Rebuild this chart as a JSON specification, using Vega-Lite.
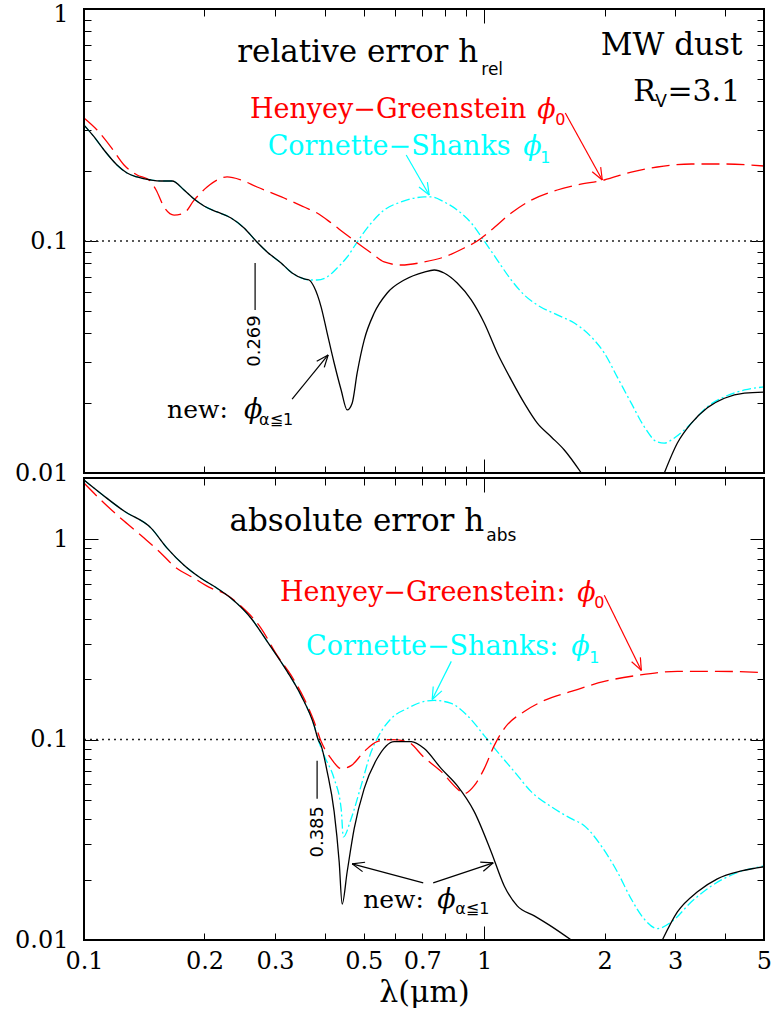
{
"$schema": "https://vega.github.io/schema/vega-lite/v6.json",
"width": 680, "height": 931,
"autosize": {"type": "none"},
"padding": {"left": 84, "top": 9, "right": 9, "bottom": 73},
"background": "white",
"config": {"view": {"stroke": null}, "axis": {"domain": false, "grid": false, "tickColor": "black", "tickWidth": 1, "labelColor": "black", "labelFont": "DejaVu Serif", "labelFontSize": 24, "labelFlush": false, "labelOverlap": false}},
"datasets": {
"curves": [
{"p":"rel","s":"CS","g":1,"x":0.1,"y":0.316},{"p":"rel","s":"CS","g":1,"x":0.1059,"y":0.2816},{"p":"rel","s":"CS","g":1,"x":0.1122,"y":0.2467},{"p":"rel","s":"CS","g":1,"x":0.1209,"y":0.2127},{"p":"rel","s":"CS","g":1,"x":0.1281,"y":0.1964},{"p":"rel","s":"CS","g":1,"x":0.1357,"y":0.1888},{"p":"rel","s":"CS","g":1,"x":0.1471,"y":0.1832},{"p":"rel","s":"CS","g":1,"x":0.1557,"y":0.1814},{"p":"rel","s":"CS","g":1,"x":0.166,"y":0.1814},{"p":"rel","s":"CS","g":1,"x":0.1778,"y":0.1659},{"p":"rel","s":"CS","g":1,"x":0.1884,"y":0.1517},{"p":"rel","s":"CS","g":1,"x":0.1995,"y":0.1415},{"p":"rel","s":"CS","g":1,"x":0.215,"y":0.1334},{"p":"rel","s":"CS","g":1,"x":0.233,"y":0.1256},{"p":"rel","s":"CS","g":1,"x":0.2512,"y":0.1138},{"p":"rel","s":"CS","g":1,"x":0.269,"y":0.1},{"p":"rel","s":"CS","g":1,"x":0.2868,"y":0.0897},{"p":"rel","s":"CS","g":1,"x":0.3108,"y":0.0804},{"p":"rel","s":"CS","g":1,"x":0.3311,"y":0.0728},{"p":"rel","s":"CS","g":1,"x":0.3548,"y":0.0686},{"p":"rel","s":"CS","g":1,"x":0.3651,"y":0.0679},{"p":"rel","s":"CS","g":1,"x":0.3823,"y":0.0679},{"p":"rel","s":"CS","g":1,"x":0.4051,"y":0.07},{"p":"rel","s":"CS","g":1,"x":0.429,"y":0.0765},{"p":"rel","s":"CS","g":1,"x":0.4545,"y":0.0853},{"p":"rel","s":"CS","g":1,"x":0.4814,"y":0.099},{"p":"rel","s":"CS","g":1,"x":0.522,"y":0.1196},{"p":"rel","s":"CS","g":1,"x":0.5623,"y":0.136},{"p":"rel","s":"CS","g":1,"x":0.62,"y":0.1473},{"p":"rel","s":"CS","g":1,"x":0.708,"y":0.1548},{"p":"rel","s":"CS","g":1,"x":0.737,"y":0.1548},{"p":"rel","s":"CS","g":1,"x":0.794,"y":0.1473},{"p":"rel","s":"CS","g":1,"x":0.856,"y":0.136},{"p":"rel","s":"CS","g":1,"x":0.928,"y":0.1196},{"p":"rel","s":"CS","g":1,"x":1.0,"y":0.1},{"p":"rel","s":"CS","g":1,"x":1.078,"y":0.0828},{"p":"rel","s":"CS","g":1,"x":1.168,"y":0.0679},{"p":"rel","s":"CS","g":1,"x":1.259,"y":0.0585},{"p":"rel","s":"CS","g":1,"x":1.357,"y":0.053},{"p":"rel","s":"CS","g":1,"x":1.522,"y":0.048},{"p":"rel","s":"CS","g":1,"x":1.679,"y":0.0443},{"p":"rel","s":"CS","g":1,"x":1.851,"y":0.0386},{"p":"rel","s":"CS","g":1,"x":1.995,"y":0.0329},{"p":"rel","s":"CS","g":1,"x":2.15,"y":0.0259},{"p":"rel","s":"CS","g":1,"x":2.33,"y":0.02},{"p":"rel","s":"CS","g":1,"x":2.512,"y":0.0158},{"p":"rel","s":"CS","g":1,"x":2.707,"y":0.0136},{"p":"rel","s":"CS","g":1,"x":2.818,"y":0.01346},{"p":"rel","s":"CS","g":1,"x":2.985,"y":0.01415},{"p":"rel","s":"CS","g":1,"x":3.293,"y":0.0164},{"p":"rel","s":"CS","g":1,"x":3.61,"y":0.0193},{"p":"rel","s":"CS","g":1,"x":3.981,"y":0.0213},{"p":"rel","s":"CS","g":1,"x":4.467,"y":0.0228},{"p":"rel","s":"CS","g":1,"x":5.0,"y":0.0235},
{"p":"rel","s":"HG","g":1,"x":0.1,"y":0.339},{"p":"rel","s":"HG","g":1,"x":0.1078,"y":0.301},{"p":"rel","s":"HG","g":1,"x":0.1168,"y":0.254},{"p":"rel","s":"HG","g":1,"x":0.1259,"y":0.2127},{"p":"rel","s":"HG","g":1,"x":0.1357,"y":0.1925},{"p":"rel","s":"HG","g":1,"x":0.1454,"y":0.1832},{"p":"rel","s":"HG","g":1,"x":0.1514,"y":0.1659},{"p":"rel","s":"HG","g":1,"x":0.1585,"y":0.1401},{"p":"rel","s":"HG","g":1,"x":0.1679,"y":0.1294},{"p":"rel","s":"HG","g":1,"x":0.1778,"y":0.132},{"p":"rel","s":"HG","g":1,"x":0.1884,"y":0.15},{"p":"rel","s":"HG","g":1,"x":0.203,"y":0.1709},{"p":"rel","s":"HG","g":1,"x":0.215,"y":0.1832},{"p":"rel","s":"HG","g":1,"x":0.2278,"y":0.1888},{"p":"rel","s":"HG","g":1,"x":0.2469,"y":0.1832},{"p":"rel","s":"HG","g":1,"x":0.2707,"y":0.1709},{"p":"rel","s":"HG","g":1,"x":0.3162,"y":0.1532},{"p":"rel","s":"HG","g":1,"x":0.3548,"y":0.1401},{"p":"rel","s":"HG","g":1,"x":0.3823,"y":0.132},{"p":"rel","s":"HG","g":1,"x":0.4145,"y":0.1196},{"p":"rel","s":"HG","g":1,"x":0.4467,"y":0.1083},{"p":"rel","s":"HG","g":1,"x":0.4786,"y":0.099},{"p":"rel","s":"HG","g":1,"x":0.522,"y":0.0888},{"p":"rel","s":"HG","g":1,"x":0.5623,"y":0.0812},{"p":"rel","s":"HG","g":1,"x":0.62,"y":0.0788},{"p":"rel","s":"HG","g":1,"x":0.708,"y":0.0812},{"p":"rel","s":"HG","g":1,"x":0.794,"y":0.0853},{"p":"rel","s":"HG","g":1,"x":0.891,"y":0.0933},{"p":"rel","s":"HG","g":1,"x":0.9605,"y":0.1},{"p":"rel","s":"HG","g":1,"x":1.041,"y":0.1115},{"p":"rel","s":"HG","g":1,"x":1.168,"y":0.132},{"p":"rel","s":"HG","g":1,"x":1.31,"y":0.15},{"p":"rel","s":"HG","g":1,"x":1.522,"y":0.1659},{"p":"rel","s":"HG","g":1,"x":1.708,"y":0.1743},{"p":"rel","s":"HG","g":1,"x":1.995,"y":0.1832},{"p":"rel","s":"HG","g":1,"x":2.33,"y":0.1983},{"p":"rel","s":"HG","g":1,"x":2.707,"y":0.2084},{"p":"rel","s":"HG","g":1,"x":3.293,"y":0.2147},{"p":"rel","s":"HG","g":1,"x":3.981,"y":0.2147},{"p":"rel","s":"HG","g":1,"x":5.0,"y":0.2105},
{"p":"rel","s":"new","g":1,"x":0.1,"y":0.316},{"p":"rel","s":"new","g":1,"x":0.1059,"y":0.2816},{"p":"rel","s":"new","g":1,"x":0.1122,"y":0.2467},{"p":"rel","s":"new","g":1,"x":0.1209,"y":0.2127},{"p":"rel","s":"new","g":1,"x":0.1281,"y":0.1964},{"p":"rel","s":"new","g":1,"x":0.1357,"y":0.1888},{"p":"rel","s":"new","g":1,"x":0.1471,"y":0.1832},{"p":"rel","s":"new","g":1,"x":0.1557,"y":0.1814},{"p":"rel","s":"new","g":1,"x":0.166,"y":0.1814},{"p":"rel","s":"new","g":1,"x":0.1778,"y":0.1659},{"p":"rel","s":"new","g":1,"x":0.1884,"y":0.1517},{"p":"rel","s":"new","g":1,"x":0.1995,"y":0.1415},{"p":"rel","s":"new","g":1,"x":0.215,"y":0.1334},{"p":"rel","s":"new","g":1,"x":0.233,"y":0.1256},{"p":"rel","s":"new","g":1,"x":0.2512,"y":0.1138},{"p":"rel","s":"new","g":1,"x":0.269,"y":0.1},{"p":"rel","s":"new","g":1,"x":0.2868,"y":0.0897},{"p":"rel","s":"new","g":1,"x":0.3108,"y":0.0804},{"p":"rel","s":"new","g":1,"x":0.3311,"y":0.0728},{"p":"rel","s":"new","g":1,"x":0.3548,"y":0.0686},{"p":"rel","s":"new","g":1,"x":0.3651,"y":0.0679},{"p":"rel","s":"new","g":1,"x":0.3758,"y":0.0633},{"p":"rel","s":"new","g":1,"x":0.3913,"y":0.0519},{"p":"rel","s":"new","g":1,"x":0.4051,"y":0.0401},{"p":"rel","s":"new","g":1,"x":0.4217,"y":0.0298},{"p":"rel","s":"new","g":1,"x":0.439,"y":0.0228},{"p":"rel","s":"new","g":1,"x":0.4545,"y":0.0187},{"p":"rel","s":"new","g":1,"x":0.4677,"y":0.02},{"p":"rel","s":"new","g":1,"x":0.4814,"y":0.027},{"p":"rel","s":"new","g":1,"x":0.5012,"y":0.0374},{"p":"rel","s":"new","g":1,"x":0.5309,"y":0.0489},{"p":"rel","s":"new","g":1,"x":0.5722,"y":0.0597},{"p":"rel","s":"new","g":1,"x":0.631,"y":0.0679},{"p":"rel","s":"new","g":1,"x":0.708,"y":0.0735},{"p":"rel","s":"new","g":1,"x":0.75,"y":0.075},{"p":"rel","s":"new","g":1,"x":0.794,"y":0.0728},{"p":"rel","s":"new","g":1,"x":0.856,"y":0.0659},{"p":"rel","s":"new","g":1,"x":0.928,"y":0.0557},{"p":"rel","s":"new","g":1,"x":1.0,"y":0.0443},{"p":"rel","s":"new","g":1,"x":1.078,"y":0.0329},{"p":"rel","s":"new","g":1,"x":1.168,"y":0.0252},{"p":"rel","s":"new","g":1,"x":1.259,"y":0.02},{"p":"rel","s":"new","g":1,"x":1.357,"y":0.0164},{"p":"rel","s":"new","g":1,"x":1.471,"y":0.0143},{"p":"rel","s":"new","g":1,"x":1.585,"y":0.01257},{"p":"rel","s":"new","g":1,"x":1.748,"y":0.01},
{"p":"rel","s":"new","g":2,"x":2.818,"y":0.01},{"p":"rel","s":"new","g":2,"x":3.038,"y":0.01346},{"p":"rel","s":"new","g":2,"x":3.293,"y":0.0164},{"p":"rel","s":"new","g":2,"x":3.61,"y":0.0191},{"p":"rel","s":"new","g":2,"x":3.981,"y":0.021},{"p":"rel","s":"new","g":2,"x":4.467,"y":0.0221},{"p":"rel","s":"new","g":2,"x":5.0,"y":0.0223},
{"p":"abs","s":"CS","g":1,"x":0.1,"y":1.972},{"p":"abs","s":"CS","g":1,"x":0.1122,"y":1.641},{"p":"abs","s":"CS","g":1,"x":0.1259,"y":1.38},{"p":"abs","s":"CS","g":1,"x":0.1471,"y":1.135},{"p":"abs","s":"CS","g":1,"x":0.1613,"y":0.902},{"p":"abs","s":"CS","g":1,"x":0.1778,"y":0.741},{"p":"abs","s":"CS","g":1,"x":0.196,"y":0.638},{"p":"abs","s":"CS","g":1,"x":0.215,"y":0.569},{"p":"abs","s":"CS","g":1,"x":0.233,"y":0.507},{"p":"abs","s":"CS","g":1,"x":0.2615,"y":0.403},{"p":"abs","s":"CS","g":1,"x":0.2868,"y":0.309},{"p":"abs","s":"CS","g":1,"x":0.3217,"y":0.219},{"p":"abs","s":"CS","g":1,"x":0.3486,"y":0.166},{"p":"abs","s":"CS","g":1,"x":0.3758,"y":0.1175},{"p":"abs","s":"CS","g":1,"x":0.3846,"y":0.1},{"p":"abs","s":"CS","g":1,"x":0.398,"y":0.0832},{"p":"abs","s":"CS","g":1,"x":0.4217,"y":0.0638},{"p":"abs","s":"CS","g":1,"x":0.439,"y":0.0452},{"p":"abs","s":"CS","g":1,"x":0.4446,"y":0.0327},{"p":"abs","s":"CS","g":1,"x":0.465,"y":0.0403},{"p":"abs","s":"CS","g":1,"x":0.4925,"y":0.0589},{"p":"abs","s":"CS","g":1,"x":0.522,"y":0.0871},{"p":"abs","s":"CS","g":1,"x":0.54,"y":0.101},{"p":"abs","s":"CS","g":1,"x":0.5855,"y":0.1274},{"p":"abs","s":"CS","g":1,"x":0.642,"y":0.1429},{"p":"abs","s":"CS","g":1,"x":0.708,"y":0.1549},{"p":"abs","s":"CS","g":1,"x":0.75,"y":0.1567},{"p":"abs","s":"CS","g":1,"x":0.827,"y":0.1514},{"p":"abs","s":"CS","g":1,"x":0.907,"y":0.1318},{"p":"abs","s":"CS","g":1,"x":1.0,"y":0.1047},{"p":"abs","s":"CS","g":1,"x":1.078,"y":0.0871},{"p":"abs","s":"CS","g":1,"x":1.189,"y":0.0692},{"p":"abs","s":"CS","g":1,"x":1.31,"y":0.055},{"p":"abs","s":"CS","g":1,"x":1.471,"y":0.0462},{"p":"abs","s":"CS","g":1,"x":1.65,"y":0.0403},{"p":"abs","s":"CS","g":1,"x":1.778,"y":0.0372},{"p":"abs","s":"CS","g":1,"x":1.96,"y":0.0295},{"p":"abs","s":"CS","g":1,"x":2.15,"y":0.0219},{"p":"abs","s":"CS","g":1,"x":2.33,"y":0.016},{"p":"abs","s":"CS","g":1,"x":2.512,"y":0.0127},{"p":"abs","s":"CS","g":1,"x":2.707,"y":0.0114},{"p":"abs","s":"CS","g":1,"x":2.934,"y":0.0123},{"p":"abs","s":"CS","g":1,"x":3.293,"y":0.0155},{"p":"abs","s":"CS","g":1,"x":3.694,"y":0.0186},{"p":"abs","s":"CS","g":1,"x":4.217,"y":0.0214},{"p":"abs","s":"CS","g":1,"x":5.0,"y":0.0234},
{"p":"abs","s":"HG","g":1,"x":0.1,"y":1.905},{"p":"abs","s":"HG","g":1,"x":0.1122,"y":1.514},{"p":"abs","s":"HG","g":1,"x":0.1259,"y":1.23},{"p":"abs","s":"HG","g":1,"x":0.1413,"y":1.012},{"p":"abs","s":"HG","g":1,"x":0.1557,"y":0.851},{"p":"abs","s":"HG","g":1,"x":0.1679,"y":0.733},{"p":"abs","s":"HG","g":1,"x":0.1884,"y":0.638},{"p":"abs","s":"HG","g":1,"x":0.2077,"y":0.569},{"p":"abs","s":"HG","g":1,"x":0.2239,"y":0.537},{"p":"abs","s":"HG","g":1,"x":0.2469,"y":0.462},{"p":"abs","s":"HG","g":1,"x":0.277,"y":0.359},{"p":"abs","s":"HG","g":1,"x":0.3038,"y":0.263},{"p":"abs","s":"HG","g":1,"x":0.3293,"y":0.209},{"p":"abs","s":"HG","g":1,"x":0.3548,"y":0.16},{"p":"abs","s":"HG","g":1,"x":0.3758,"y":0.123},{"p":"abs","s":"HG","g":1,"x":0.3913,"y":0.0977},{"p":"abs","s":"HG","g":1,"x":0.4145,"y":0.0804},{"p":"abs","s":"HG","g":1,"x":0.439,"y":0.0716},{"p":"abs","s":"HG","g":1,"x":0.465,"y":0.0741},{"p":"abs","s":"HG","g":1,"x":0.5012,"y":0.0871},{"p":"abs","s":"HG","g":1,"x":0.54,"y":0.0977},{"p":"abs","s":"HG","g":1,"x":0.5855,"y":0.1},{"p":"abs","s":"HG","g":1,"x":0.642,"y":0.0977},{"p":"abs","s":"HG","g":1,"x":0.708,"y":0.0813},{"p":"abs","s":"HG","g":1,"x":0.781,"y":0.0692},{"p":"abs","s":"HG","g":1,"x":0.856,"y":0.0569},{"p":"abs","s":"HG","g":1,"x":0.891,"y":0.0537},{"p":"abs","s":"HG","g":1,"x":0.944,"y":0.0589},{"p":"abs","s":"HG","g":1,"x":1.0,"y":0.0716},{"p":"abs","s":"HG","g":1,"x":1.059,"y":0.0933},{"p":"abs","s":"HG","g":1,"x":1.122,"y":0.1135},{"p":"abs","s":"HG","g":1,"x":1.259,"y":0.138},{"p":"abs","s":"HG","g":1,"x":1.413,"y":0.1567},{"p":"abs","s":"HG","g":1,"x":1.65,"y":0.1738},{"p":"abs","s":"HG","g":1,"x":1.995,"y":0.195},{"p":"abs","s":"HG","g":1,"x":2.413,"y":0.209},{"p":"abs","s":"HG","g":1,"x":3.038,"y":0.219},{"p":"abs","s":"HG","g":1,"x":3.823,"y":0.219},{"p":"abs","s":"HG","g":1,"x":5.0,"y":0.216},
{"p":"abs","s":"new","g":1,"x":0.1,"y":1.972},{"p":"abs","s":"new","g":1,"x":0.1122,"y":1.641},{"p":"abs","s":"new","g":1,"x":0.1259,"y":1.38},{"p":"abs","s":"new","g":1,"x":0.1471,"y":1.135},{"p":"abs","s":"new","g":1,"x":0.1613,"y":0.902},{"p":"abs","s":"new","g":1,"x":0.1778,"y":0.741},{"p":"abs","s":"new","g":1,"x":0.196,"y":0.638},{"p":"abs","s":"new","g":1,"x":0.215,"y":0.569},{"p":"abs","s":"new","g":1,"x":0.233,"y":0.507},{"p":"abs","s":"new","g":1,"x":0.2615,"y":0.403},{"p":"abs","s":"new","g":1,"x":0.2868,"y":0.309},{"p":"abs","s":"new","g":1,"x":0.3217,"y":0.219},{"p":"abs","s":"new","g":1,"x":0.3486,"y":0.166},{"p":"abs","s":"new","g":1,"x":0.3758,"y":0.1175},{"p":"abs","s":"new","g":1,"x":0.3846,"y":0.1},{"p":"abs","s":"new","g":1,"x":0.3913,"y":0.0933},{"p":"abs","s":"new","g":1,"x":0.4051,"y":0.0692},{"p":"abs","s":"new","g":1,"x":0.4217,"y":0.0437},{"p":"abs","s":"new","g":1,"x":0.4341,"y":0.0245},{"p":"abs","s":"new","g":1,"x":0.4416,"y":0.0151},{"p":"abs","s":"new","g":1,"x":0.4545,"y":0.0219},{"p":"abs","s":"new","g":1,"x":0.4732,"y":0.0359},{"p":"abs","s":"new","g":1,"x":0.5012,"y":0.0569},{"p":"abs","s":"new","g":1,"x":0.54,"y":0.0804},{"p":"abs","s":"new","g":1,"x":0.5957,"y":0.0977},{"p":"abs","s":"new","g":1,"x":0.657,"y":0.0977},{"p":"abs","s":"new","g":1,"x":0.708,"y":0.0902},{"p":"abs","s":"new","g":1,"x":0.781,"y":0.0716},{"p":"abs","s":"new","g":1,"x":0.856,"y":0.0589},{"p":"abs","s":"new","g":1,"x":0.944,"y":0.0437},{"p":"abs","s":"new","g":1,"x":1.041,"y":0.0275},{"p":"abs","s":"new","g":1,"x":1.122,"y":0.0186},{"p":"abs","s":"new","g":1,"x":1.209,"y":0.0148},{"p":"abs","s":"new","g":1,"x":1.334,"y":0.0132},{"p":"abs","s":"new","g":1,"x":1.471,"y":0.0117},{"p":"abs","s":"new","g":1,"x":1.65,"y":0.01},
{"p":"abs","s":"new","g":2,"x":2.786,"y":0.01},{"p":"abs","s":"new","g":2,"x":3.038,"y":0.0138},{"p":"abs","s":"new","g":2,"x":3.41,"y":0.0174},{"p":"abs","s":"new","g":2,"x":3.823,"y":0.0202},{"p":"abs","s":"new","g":2,"x":4.39,"y":0.0221},{"p":"abs","s":"new","g":2,"x":5.0,"y":0.0232}
],
"notes": [
{"p":"rel","r":"tr","s":"new","t":"relative error h","x":0.966,"y":0.5908},
{"p":"rel","r":"tr","s":"new","t":"MW dust","x":4.416,"y":0.6335},
{"p":"rel","r":"tl","s":"new","t":"R","x":2.358,"y":0.4013},
{"p":"rel","r":"tl","s":"new","t":"=3.1","x":2.868,"y":0.4013},
{"p":"rel","r":"sub","s":"new","t":"rel","x":0.983,"y":0.5194},
{"p":"rel","r":"sub","s":"new","t":"V","x":2.676,"y":0.3781},
{"p":"rel","r":"lab","s":"HG","t":"Henyey−Greenstein","x":0.5754,"y":0.339},
{"p":"rel","r":"lab","s":"CS","t":"Cornette−Shanks","x":0.5788,"y":0.2349},
{"p":"rel","r":"phi","s":"HG","t":"ϕ","x":1.357,"y":0.339},
{"p":"rel","r":"phi","s":"CS","t":"ϕ","x":1.252,"y":0.2349},
{"p":"rel","r":"phi","s":"new","t":"ϕ","x":0.2512,"y":0.01726},
{"p":"rel","r":"ps","s":"HG","t":"0","x":1.505,"y":0.3162},
{"p":"rel","r":"ps","s":"CS","t":"1","x":1.38,"y":0.2169},
{"p":"rel","r":"ps","s":"new","t":"α≦1","x":0.2738,"y":0.0161},
{"p":"rel","r":"new","s":"new","t":"new:","x":0.1613,"y":0.01726},
{"p":"rel","r":"num","s":"new","t":"0.269","x":0.2676,"y":0.03707},
{"p":"abs","r":"tr","s":"new","t":"absolute error h","x":1.0,"y":1.096},
{"p":"abs","r":"sub","s":"new","t":"abs","x":1.012,"y":0.977},
{"p":"abs","r":"lab","s":"HG","t":"Henyey−Greenstein:","x":0.7019,"y":0.4898},
{"p":"abs","r":"lab","s":"CS","t":"Cornette−Shanks:","x":0.7413,"y":0.263},
{"p":"abs","r":"phi","s":"HG","t":"ϕ","x":1.708,"y":0.4898},
{"p":"abs","r":"phi","s":"CS","t":"ϕ","x":1.65,"y":0.263},
{"p":"abs","r":"phi","s":"new","t":"ϕ","x":0.763,"y":0.01445},
{"p":"abs","r":"ps","s":"HG","t":"0","x":1.884,"y":0.4519},
{"p":"abs","r":"ps","s":"CS","t":"1","x":1.83,"y":0.2399},
{"p":"abs","r":"ps","s":"new","t":"α≦1","x":0.846,"y":0.01349},
{"p":"abs","r":"new","s":"new","t":"new:","x":0.4984,"y":0.01445},
{"p":"abs","r":"num","s":"new","t":"0.385","x":0.3846,"y":0.03467}
],
"arrows": [
{"p":"rel","s":"HG","x":1.594,"y":0.3562,"x2":1.972,"y2":0.1832},
{"p":"rel","s":"HG","x":1.972,"y":0.1832,"x2":1.954,"y2":0.2083},
{"p":"rel","s":"HG","x":1.972,"y":0.1832,"x2":1.861,"y2":0.1988},
{"p":"rel","s":"CS","x":0.6383,"y":0.2349,"x2":0.7286,"y2":0.1579},
{"p":"rel","s":"CS","x":0.7286,"y":0.1579,"x2":0.7211,"y2":0.1794},
{"p":"rel","s":"CS","x":0.7286,"y":0.1579,"x2":0.6871,"y2":0.1709},
{"p":"rel","s":"new","x":0.3311,"y":0.02084,"x2":0.4074,"y2":0.03226},
{"p":"rel","s":"new","x":0.4074,"y":0.03226,"x2":0.3815,"y2":0.03033},
{"p":"rel","s":"new","x":0.4074,"y":0.03226,"x2":0.3984,"y2":0.02852},
{"p":"rel","s":"new","x":0.2676,"y":0.0804,"x2":0.2676,"y2":0.05043},
{"p":"abs","s":"HG","x":1.995,"y":0.5248,"x2":2.469,"y2":0.2213},
{"p":"abs","s":"HG","x":2.469,"y":0.2213,"x2":2.455,"y2":0.257},
{"p":"abs","s":"HG","x":2.469,"y":0.2213,"x2":2.335,"y2":0.2446},
{"p":"abs","s":"CS","x":0.8272,"y":0.2455,"x2":0.7413,"y2":0.1585},
{"p":"abs","s":"CS","x":0.7413,"y":0.1585,"x2":0.7838,"y2":0.175},
{"p":"abs","s":"CS","x":0.7413,"y":0.1585,"x2":0.7456,"y2":0.1841},
{"p":"abs","s":"new","x":0.704,"y":0.01928,"x2":0.4677,"y2":0.02399},
{"p":"abs","s":"new","x":0.4677,"y":0.02399,"x2":0.4966,"y2":0.02193},
{"p":"abs","s":"new","x":0.4677,"y":0.02399,"x2":0.5038,"y2":0.02443},
{"p":"abs","s":"new","x":0.7456,"y":0.01928,"x2":1.053,"y2":0.02427},
{"p":"abs","s":"new","x":1.053,"y":0.02427,"x2":0.9772,"y2":0.02449},
{"p":"abs","s":"new","x":1.053,"y":0.02427,"x2":0.9948,"y2":0.02203},
{"p":"abs","s":"new","x":0.3823,"y":0.0785,"x2":0.3823,"y2":0.0507}
]
},
"layer": [
{"data":{"name":"curves"},"transform":[{"filter":"datum.p=='rel' && datum.s=='CS'"}],"mark":{"type":"line","interpolate":"monotone","color":"#00ffff","strokeWidth":1.3,"strokeDash":[9,3,2,3]},
 "encoding":{"x":{"field":"x","type":"quantitative","scale":{"type":"log","domain":[0.1,5],"nice":false},"axis":null},"y":{"field":"y","type":"quantitative","scale":{"type":"log","domain":[0.01,1],"nice":false,"range":[464,0]},"axis":null}}},
{"data":{"name":"curves"},"transform":[{"filter":"datum.p=='rel' && datum.s=='HG'"}],"mark":{"type":"line","interpolate":"monotone","color":"#ff0000","strokeWidth":1.3,"strokeDash":[18,7]},
 "encoding":{"x":{"field":"x","type":"quantitative","scale":{"type":"log","domain":[0.1,5],"nice":false},"axis":null},"y":{"field":"y","type":"quantitative","scale":{"type":"log","domain":[0.01,1],"nice":false,"range":[464,0]},"axis":null}}},
{"data":{"name":"curves"},"transform":[{"filter":"datum.p=='rel' && datum.s=='new'"}],"mark":{"type":"line","interpolate":"monotone","color":"#000000","strokeWidth":1.3},
 "encoding":{"x":{"field":"x","type":"quantitative","scale":{"type":"log","domain":[0.1,5],"nice":false},"axis":null},"y":{"field":"y","type":"quantitative","scale":{"type":"log","domain":[0.01,1],"nice":false,"range":[464,0]},"axis":null},"detail":{"field":"g","type":"nominal"}}},
{"data":{"name":"curves"},"transform":[{"filter":"datum.p=='abs' && datum.s=='CS'"}],"mark":{"type":"line","interpolate":"monotone","color":"#00ffff","strokeWidth":1.3,"strokeDash":[9,3,2,3]},
 "encoding":{"x":{"field":"x","type":"quantitative","scale":{"type":"log","domain":[0.1,5],"nice":false},"axis":null},"y":{"field":"y","type":"quantitative","scale":{"type":"log","domain":[0.01,2.018],"nice":false,"range":[931,469]},"axis":null}}},
{"data":{"name":"curves"},"transform":[{"filter":"datum.p=='abs' && datum.s=='HG'"}],"mark":{"type":"line","interpolate":"monotone","color":"#ff0000","strokeWidth":1.3,"strokeDash":[18,7]},
 "encoding":{"x":{"field":"x","type":"quantitative","scale":{"type":"log","domain":[0.1,5],"nice":false},"axis":null},"y":{"field":"y","type":"quantitative","scale":{"type":"log","domain":[0.01,2.018],"nice":false,"range":[931,469]},"axis":null}}},
{"data":{"name":"curves"},"transform":[{"filter":"datum.p=='abs' && datum.s=='new'"}],"mark":{"type":"line","interpolate":"monotone","color":"#000000","strokeWidth":1.3},
 "encoding":{"x":{"field":"x","type":"quantitative","scale":{"type":"log","domain":[0.1,5],"nice":false},"axis":null},"y":{"field":"y","type":"quantitative","scale":{"type":"log","domain":[0.01,2.018],"nice":false,"range":[931,469]},"axis":null},"detail":{"field":"g","type":"nominal"}}},
{"data":{"name":"arrows"},"transform":[{"filter":"datum.p=='rel'"}],"mark":{"type":"rule","strokeWidth":1.2},
 "encoding":{"x":{"field":"x","type":"quantitative","scale":{"type":"log","domain":[0.1,5],"nice":false},"axis":null},"x2":{"field":"x2"},"y":{"field":"y","type":"quantitative","scale":{"type":"log","domain":[0.01,1],"nice":false,"range":[464,0]},"axis":null},"y2":{"field":"y2"},
 "color":{"field":"s","type":"nominal","scale":{"domain":["HG","CS","new"],"range":["#ff0000","#00ffff","#000000"]},"legend":null}}},
{"data":{"name":"arrows"},"transform":[{"filter":"datum.p=='abs'"}],"mark":{"type":"rule","strokeWidth":1.2},
 "encoding":{"x":{"field":"x","type":"quantitative","scale":{"type":"log","domain":[0.1,5],"nice":false},"axis":null},"x2":{"field":"x2"},"y":{"field":"y","type":"quantitative","scale":{"type":"log","domain":[0.01,2.018],"nice":false,"range":[931,469]},"axis":null},"y2":{"field":"y2"},
 "color":{"field":"s","type":"nominal","scale":{"domain":["HG","CS","new"],"range":["#ff0000","#00ffff","#000000"]},"legend":null}}},
{"data":{"name":"notes"},"transform":[{"filter":"datum.p=='rel' && datum.r=='tr'"}],"mark":{"type":"text","align":"right","baseline":"alphabetic","font":"DejaVu Serif","fontSize":31,"color":"black"},
 "encoding":{"x":{"field":"x","type":"quantitative","scale":{"type":"log","domain":[0.1,5],"nice":false},"axis":null},"y":{"field":"y","type":"quantitative","scale":{"type":"log","domain":[0.01,1],"nice":false,"range":[464,0]},"axis":null},"text":{"field":"t"}}},
{"data":{"name":"notes"},"transform":[{"filter":"datum.p=='rel' && datum.r=='tl'"}],"mark":{"type":"text","align":"left","baseline":"alphabetic","font":"DejaVu Serif","fontSize":30,"color":"black"},
 "encoding":{"x":{"field":"x","type":"quantitative","scale":{"type":"log","domain":[0.1,5],"nice":false},"axis":null},"y":{"field":"y","type":"quantitative","scale":{"type":"log","domain":[0.01,1],"nice":false,"range":[464,0]},"axis":null},"text":{"field":"t"}}},
{"data":{"name":"notes"},"transform":[{"filter":"datum.p=='rel' && datum.r=='sub'"}],"mark":{"type":"text","align":"left","baseline":"alphabetic","font":"DejaVu Sans","fontSize":17,"color":"black"},
 "encoding":{"x":{"field":"x","type":"quantitative","scale":{"type":"log","domain":[0.1,5],"nice":false},"axis":null},"y":{"field":"y","type":"quantitative","scale":{"type":"log","domain":[0.01,1],"nice":false,"range":[464,0]},"axis":null},"text":{"field":"t"}}},
{"data":{"name":"notes"},"transform":[{"filter":"datum.p=='rel' && datum.r=='lab'"}],"mark":{"type":"text","align":"center","baseline":"alphabetic","font":"DejaVu Serif","fontSize":27},
 "encoding":{"x":{"field":"x","type":"quantitative","scale":{"type":"log","domain":[0.1,5],"nice":false},"axis":null},"y":{"field":"y","type":"quantitative","scale":{"type":"log","domain":[0.01,1],"nice":false,"range":[464,0]},"axis":null},"text":{"field":"t"},
 "color":{"field":"s","type":"nominal","scale":{"domain":["HG","CS","new"],"range":["#ff0000","#00ffff","#000000"]},"legend":null}}},
{"data":{"name":"notes"},"transform":[{"filter":"datum.p=='rel' && datum.r=='phi'"}],"mark":{"type":"text","align":"left","baseline":"alphabetic","font":"DejaVu Serif","fontStyle":"italic","fontSize":27},
 "encoding":{"x":{"field":"x","type":"quantitative","scale":{"type":"log","domain":[0.1,5],"nice":false},"axis":null},"y":{"field":"y","type":"quantitative","scale":{"type":"log","domain":[0.01,1],"nice":false,"range":[464,0]},"axis":null},"text":{"field":"t"},
 "color":{"field":"s","type":"nominal","scale":{"domain":["HG","CS","new"],"range":["#ff0000","#00ffff","#000000"]},"legend":null}}},
{"data":{"name":"notes"},"transform":[{"filter":"datum.p=='rel' && datum.r=='ps'"}],"mark":{"type":"text","align":"left","baseline":"alphabetic","font":"DejaVu Sans","fontSize":16},
 "encoding":{"x":{"field":"x","type":"quantitative","scale":{"type":"log","domain":[0.1,5],"nice":false},"axis":null},"y":{"field":"y","type":"quantitative","scale":{"type":"log","domain":[0.01,1],"nice":false,"range":[464,0]},"axis":null},"text":{"field":"t"},
 "color":{"field":"s","type":"nominal","scale":{"domain":["HG","CS","new"],"range":["#ff0000","#00ffff","#000000"]},"legend":null}}},
{"data":{"name":"notes"},"transform":[{"filter":"datum.p=='rel' && datum.r=='new'"}],"mark":{"type":"text","align":"left","baseline":"alphabetic","font":"DejaVu Serif","fontSize":25,"color":"black"},
 "encoding":{"x":{"field":"x","type":"quantitative","scale":{"type":"log","domain":[0.1,5],"nice":false},"axis":null},"y":{"field":"y","type":"quantitative","scale":{"type":"log","domain":[0.01,1],"nice":false,"range":[464,0]},"axis":null},"text":{"field":"t"}}},
{"data":{"name":"notes"},"transform":[{"filter":"datum.p=='rel' && datum.r=='num'"}],"mark":{"type":"text","align":"center","baseline":"middle","angle":270,"font":"DejaVu Sans","fontSize":18,"color":"black"},
 "encoding":{"x":{"field":"x","type":"quantitative","scale":{"type":"log","domain":[0.1,5],"nice":false},"axis":null},"y":{"field":"y","type":"quantitative","scale":{"type":"log","domain":[0.01,1],"nice":false,"range":[464,0]},"axis":null},"text":{"field":"t"}}},
{"data":{"name":"notes"},"transform":[{"filter":"datum.p=='abs' && datum.r=='tr'"}],"mark":{"type":"text","align":"right","baseline":"alphabetic","font":"DejaVu Serif","fontSize":31,"color":"black"},
 "encoding":{"x":{"field":"x","type":"quantitative","scale":{"type":"log","domain":[0.1,5],"nice":false},"axis":null},"y":{"field":"y","type":"quantitative","scale":{"type":"log","domain":[0.01,2.018],"nice":false,"range":[931,469]},"axis":null},"text":{"field":"t"}}},
{"data":{"name":"notes"},"transform":[{"filter":"datum.p=='abs' && datum.r=='sub'"}],"mark":{"type":"text","align":"left","baseline":"alphabetic","font":"DejaVu Sans","fontSize":17,"color":"black"},
 "encoding":{"x":{"field":"x","type":"quantitative","scale":{"type":"log","domain":[0.1,5],"nice":false},"axis":null},"y":{"field":"y","type":"quantitative","scale":{"type":"log","domain":[0.01,2.018],"nice":false,"range":[931,469]},"axis":null},"text":{"field":"t"}}},
{"data":{"name":"notes"},"transform":[{"filter":"datum.p=='abs' && datum.r=='lab'"}],"mark":{"type":"text","align":"center","baseline":"alphabetic","font":"DejaVu Serif","fontSize":27},
 "encoding":{"x":{"field":"x","type":"quantitative","scale":{"type":"log","domain":[0.1,5],"nice":false},"axis":null},"y":{"field":"y","type":"quantitative","scale":{"type":"log","domain":[0.01,2.018],"nice":false,"range":[931,469]},"axis":null},"text":{"field":"t"},
 "color":{"field":"s","type":"nominal","scale":{"domain":["HG","CS","new"],"range":["#ff0000","#00ffff","#000000"]},"legend":null}}},
{"data":{"name":"notes"},"transform":[{"filter":"datum.p=='abs' && datum.r=='phi'"}],"mark":{"type":"text","align":"left","baseline":"alphabetic","font":"DejaVu Serif","fontStyle":"italic","fontSize":27},
 "encoding":{"x":{"field":"x","type":"quantitative","scale":{"type":"log","domain":[0.1,5],"nice":false},"axis":null},"y":{"field":"y","type":"quantitative","scale":{"type":"log","domain":[0.01,2.018],"nice":false,"range":[931,469]},"axis":null},"text":{"field":"t"},
 "color":{"field":"s","type":"nominal","scale":{"domain":["HG","CS","new"],"range":["#ff0000","#00ffff","#000000"]},"legend":null}}},
{"data":{"name":"notes"},"transform":[{"filter":"datum.p=='abs' && datum.r=='ps'"}],"mark":{"type":"text","align":"left","baseline":"alphabetic","font":"DejaVu Sans","fontSize":16},
 "encoding":{"x":{"field":"x","type":"quantitative","scale":{"type":"log","domain":[0.1,5],"nice":false},"axis":null},"y":{"field":"y","type":"quantitative","scale":{"type":"log","domain":[0.01,2.018],"nice":false,"range":[931,469]},"axis":null},"text":{"field":"t"},
 "color":{"field":"s","type":"nominal","scale":{"domain":["HG","CS","new"],"range":["#ff0000","#00ffff","#000000"]},"legend":null}}},
{"data":{"name":"notes"},"transform":[{"filter":"datum.p=='abs' && datum.r=='new'"}],"mark":{"type":"text","align":"left","baseline":"alphabetic","font":"DejaVu Serif","fontSize":25,"color":"black"},
 "encoding":{"x":{"field":"x","type":"quantitative","scale":{"type":"log","domain":[0.1,5],"nice":false},"axis":null},"y":{"field":"y","type":"quantitative","scale":{"type":"log","domain":[0.01,2.018],"nice":false,"range":[931,469]},"axis":null},"text":{"field":"t"}}},
{"data":{"name":"notes"},"transform":[{"filter":"datum.p=='abs' && datum.r=='num'"}],"mark":{"type":"text","align":"center","baseline":"middle","angle":270,"font":"DejaVu Sans","fontSize":18,"color":"black"},
 "encoding":{"x":{"field":"x","type":"quantitative","scale":{"type":"log","domain":[0.1,5],"nice":false},"axis":null},"y":{"field":"y","type":"quantitative","scale":{"type":"log","domain":[0.01,2.018],"nice":false,"range":[931,469]},"axis":null},"text":{"field":"t"}}},
{"data":{"values":[{"a":1}]},"mark":{"type":"rule","color":"#222222","strokeWidth":1.5,"strokeDash":[2,4]},
 "encoding":{"x":{"datum":0.1,"type":"quantitative","scale":{"type":"log","domain":[0.1,5],"nice":false},
   "axis":{"orient":"bottom","offset":-467,"values":[0.1,0.2,0.3,0.4,0.5,0.6,0.7,0.8,0.9,1,2,3,4,5],"labels":false,"title":null,"tickSize":{"condition":{"test":"datum.value == 0.1 || datum.value == 1","value":-14},"value":-7}}},
  "x2":{"datum":5},
  "y":{"datum":0.1,"type":"quantitative","scale":{"type":"log","domain":[0.01,1],"nice":false,"range":[464,0]},
   "axis":{"orient":"right","values":[0.01,0.02,0.03,0.04,0.05,0.06,0.07,0.08,0.09,0.1,0.2,0.3,0.4,0.5,0.6,0.7,0.8,0.9,1],"labels":false,"title":null,"tickSize":{"condition":{"test":"datum.value == 0.01 || datum.value == 0.1 || datum.value == 1","value":-14},"value":-7}}}}},
{"data":{"values":[{"a":1}]},"mark":{"type":"rule","color":"#222222","strokeWidth":1.5,"strokeDash":[2,4]},
 "encoding":{"x":{"datum":0.1,"type":"quantitative","scale":{"type":"log","domain":[0.1,5],"nice":false},
   "axis":{"orient":"top","offset":-469,"values":[0.1,0.2,0.3,0.4,0.5,0.6,0.7,0.8,0.9,1,2,3,4,5],"labels":false,"title":null,"tickSize":{"condition":{"test":"datum.value == 0.1 || datum.value == 1","value":-14},"value":-7}}},
  "x2":{"datum":5},
  "y":{"datum":0.1,"type":"quantitative","scale":{"type":"log","domain":[0.01,2.018],"nice":false,"range":[931,469]},
   "axis":{"orient":"right","values":[0.01,0.02,0.03,0.04,0.05,0.06,0.07,0.08,0.09,0.1,0.2,0.3,0.4,0.5,0.6,0.7,0.8,0.9,1],"labels":false,"title":null,"tickSize":{"condition":{"test":"datum.value == 0.01 || datum.value == 0.1 || datum.value == 1","value":-14},"value":-7}}}}},
{"data":{"values":[{"a":1}]},"mark":{"type":"rect","filled":false,"color":"black","strokeWidth":2},
 "encoding":{"x":{"datum":0.1,"type":"quantitative","scale":{"type":"log","domain":[0.1,5],"nice":false},
   "axis":{"orient":"top","values":[0.1,0.2,0.3,0.4,0.5,0.6,0.7,0.8,0.9,1,2,3,4,5],"labels":false,"title":null,"tickSize":{"condition":{"test":"datum.value == 0.1 || datum.value == 1","value":-14},"value":-7}}},
  "x2":{"datum":5},
  "y":{"datum":0.01,"type":"quantitative","scale":{"type":"log","domain":[0.01,1],"nice":false,"range":[464,0]},
   "axis":{"orient":"left","values":[0.01,0.02,0.03,0.04,0.05,0.06,0.07,0.08,0.09,0.1,0.2,0.3,0.4,0.5,0.6,0.7,0.8,0.9,1],"title":null,"labelPadding":30,
   "labelOffset":{"condition":{"test":"datum.value == 1","value":5},"value":0},
   "labelExpr":"indexof([0.01,0.1,1], datum.value) >= 0 ? format(datum.value, '~g') : ''","tickSize":{"condition":{"test":"datum.value == 0.01 || datum.value == 0.1 || datum.value == 1","value":-14},"value":-7}}},
  "y2":{"datum":1}}},
{"data":{"values":[{"a":1}]},"mark":{"type":"rect","filled":false,"color":"black","strokeWidth":2},
 "encoding":{"x":{"datum":0.1,"type":"quantitative","scale":{"type":"log","domain":[0.1,5],"nice":false},
   "axis":{"orient":"bottom","values":[0.1,0.2,0.3,0.4,0.5,0.6,0.7,0.8,0.9,1,2,3,4,5],"title":"λ(μm)","titleFont":"DejaVu Serif","titleFontSize":30,"titleFontWeight":"normal","titleColor":"black","titlePadding":4,
   "labelExpr":"indexof([0.1,0.2,0.3,0.5,0.7,1,2,3,5], datum.value) >= 0 ? format(datum.value, '~g') : ''",
   "labelPadding":{"condition":{"test":"datum.value == 0.1 || datum.value == 1","value":23},"value":16},
   "tickSize":{"condition":{"test":"datum.value == 0.1 || datum.value == 1","value":-14},"value":-7}}},
  "x2":{"datum":5},
  "y":{"datum":0.01,"type":"quantitative","scale":{"type":"log","domain":[0.01,2.018],"nice":false,"range":[931,469]},
   "axis":{"orient":"left","values":[0.01,0.02,0.03,0.04,0.05,0.06,0.07,0.08,0.09,0.1,0.2,0.3,0.4,0.5,0.6,0.7,0.8,0.9,1],"title":null,"labelPadding":30,"labelExpr":"indexof([0.01,0.1,1], datum.value) >= 0 ? format(datum.value, '~g') : ''","tickSize":{"condition":{"test":"datum.value == 0.01 || datum.value == 0.1 || datum.value == 1","value":-14},"value":-7}}},
  "y2":{"datum":2.018}}}
],
"resolve": {"scale": {"y": "independent"}, "axis": {"x": "independent", "y": "independent"}}
}
